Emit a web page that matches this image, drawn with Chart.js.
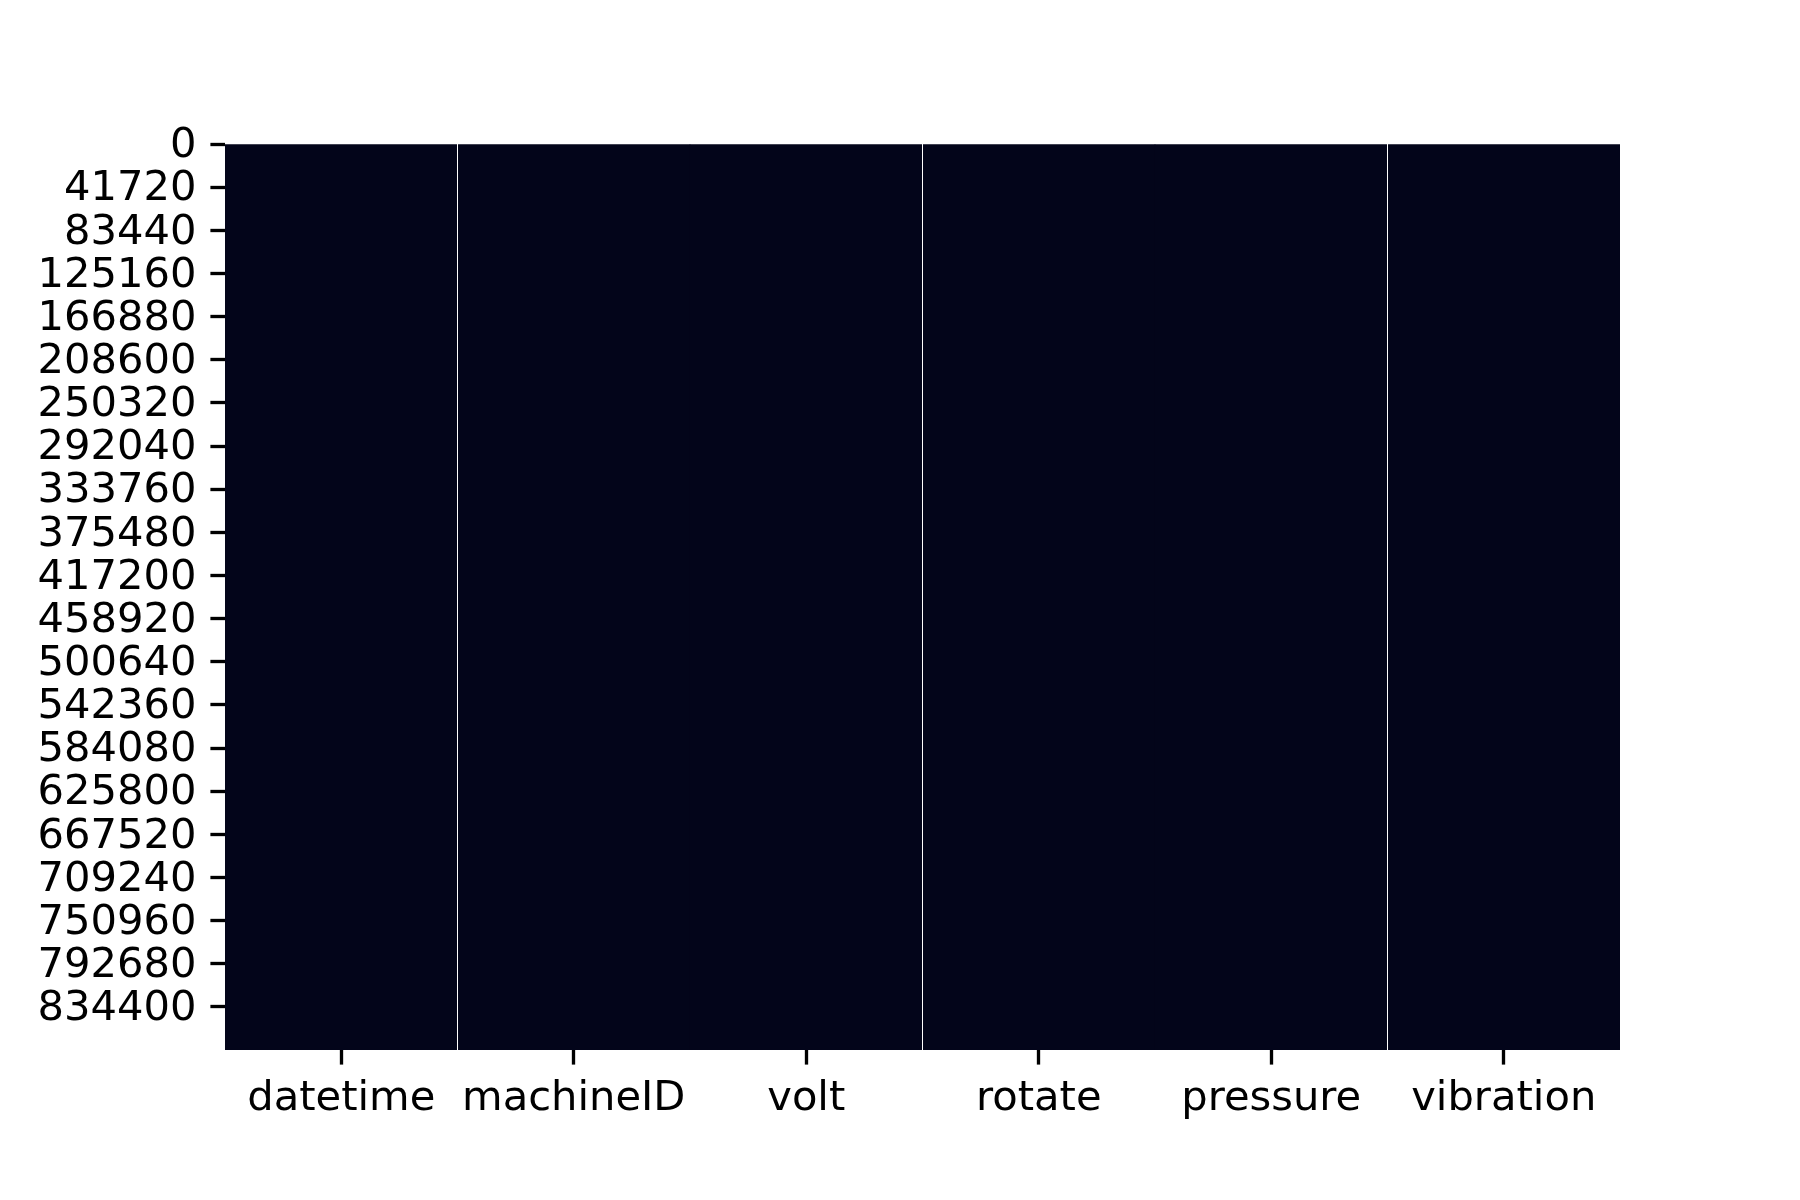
<!DOCTYPE html>
<html>
<head>
<meta charset="utf-8">
<script src="https://cdn.jsdelivr.net/npm/chart.js@4.4.1/dist/chart.umd.min.js"></script>
<style>
  html, body { margin: 0; padding: 0; background: #ffffff; }
  canvas { display: block; }
</style>
</head>
<body>
<canvas id="c" width="1800" height="1200"></canvas>
<script>
// ---- data ----
const columns = ["datetime", "machineID", "volt", "rotate", "pressure", "vibration"];
const rowCount = 876100;
const missingCounts = [0, 0, 0, 0, 0, 0];
const yTickValues = [0, 41720, 83440, 125160, 166880, 208600, 250320, 292040, 333760, 375480,
  417200, 458920, 500640, 542360, 584080, 625800, 667520, 709240, 750960, 792680, 834400];
const yTickLabels = ["0", "41720", "83440", "125160", "166880", "208600", "250320", "292040",
  "333760", "375480", "417200", "458920", "500640", "542360", "584080", "625800", "667520",
  "709240", "750960", "792680", "834400"];
const seamBoundaries = [1, 3, 5];

// colormap endpoints (rocket): 0 -> dark, 1 -> light
function cmap(f) {
  const a = [3, 5, 26], b = [250, 235, 221];
  const c = a.map((v, i) => Math.round(v + (b[i] - v) * f));
  return `rgb(${c[0]},${c[1]},${c[2]})`;
}

const FONT = { family: "'DejaVu Sans', sans-serif", size: 41.67 };
const TICK_LEN = 14.6;
const TICK_W = 3.33;

const seamPlugin = {
  id: 'seams',
  afterDatasetsDraw(chart) {
    const x = chart.scales.x, area = chart.chartArea, ctx = chart.ctx;
    ctx.save();
    ctx.fillStyle = '#ffffff';
    seamBoundaries.forEach(i => {
      const px = (x.getPixelForValue(i - 1) + x.getPixelForValue(i)) / 2;
      ctx.fillRect(Math.floor(px), area.top, 1, area.bottom - area.top);
    });
    ctx.restore();
  }
};

new Chart(document.getElementById('c'), {
  type: 'bar',
  data: {
    labels: columns,
    datasets: [{
      data: columns.map(() => [0, rowCount]),
      backgroundColor: missingCounts.map(m => cmap(m / rowCount)),
      borderWidth: 0,
      categoryPercentage: 1.0,
      barPercentage: 1.0
    }]
  },
  options: {
    responsive: false,
    animation: false,
    devicePixelRatio: 1,
    layout: { padding: { left: 0, top: 144, right: 180, bottom: 0 } },
    plugins: { legend: { display: false }, tooltip: { enabled: false } },
    scales: {
      x: {
        type: 'category',
        offset: true,
        border: { display: false },
        grid: {
          offset: false, drawOnChartArea: false, drawTicks: true,
          tickLength: TICK_LEN, tickWidth: TICK_W, tickColor: '#000000'
        },
        ticks: { font: FONT, color: '#000000', padding: 10, maxRotation: 0, autoSkip: false },
        afterFit(s) { s.height = 150; }
      },
      y: {
        type: 'linear',
        reverse: true,
        min: 0,
        max: rowCount,
        border: { display: false },
        grid: {
          drawOnChartArea: false, drawTicks: true,
          tickLength: TICK_LEN, tickWidth: TICK_W, tickColor: '#000000'
        },
        ticks: {
          font: FONT, color: '#000000', padding: 14, autoSkip: false, labelOffset: 2.5,
          callback: (v, i) => yTickLabels[i]
        },
        afterBuildTicks(s) { s.ticks = yTickValues.map(v => ({ value: v })); },
        afterFit(s) { s.width = 225; }
      }
    }
  },
  plugins: [seamPlugin]
});
</script>
</body>
</html>
